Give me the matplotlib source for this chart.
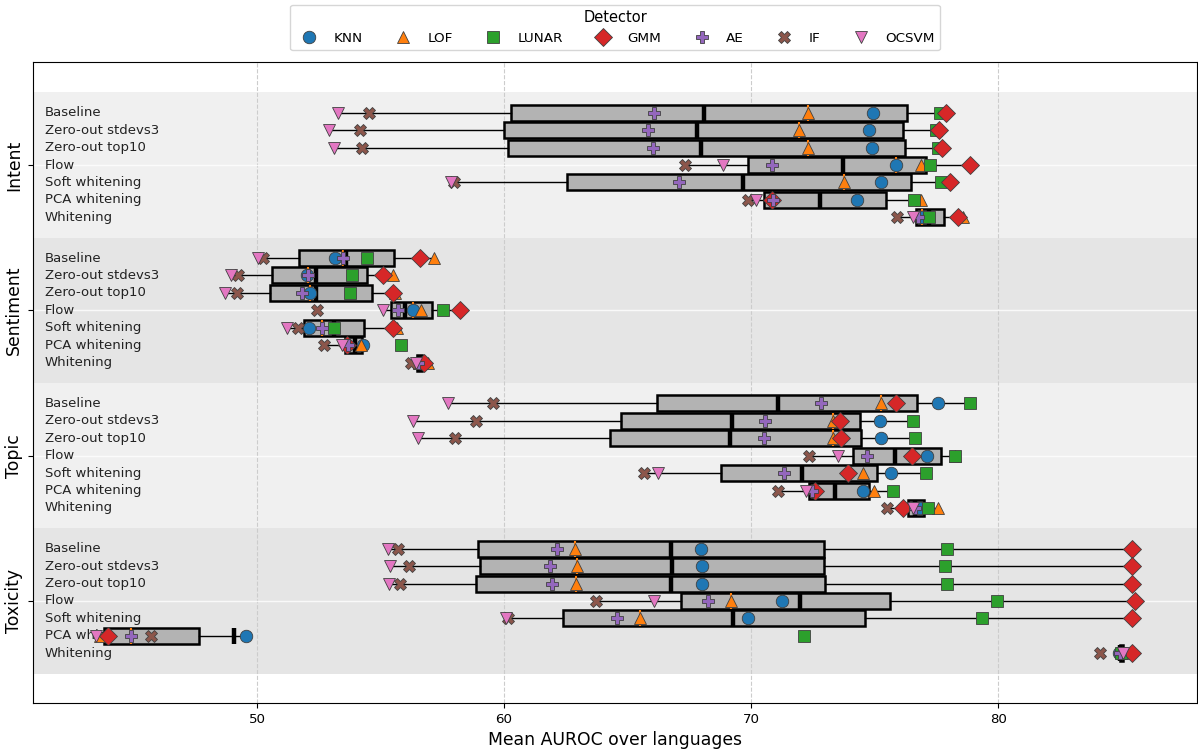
import numpy as np
import matplotlib.pyplot as plt

tasks = ["Intent", "Sentiment", "Topic", "Toxicity"]
methods = ["Baseline", "Zero-out stdevs3", "Zero-out top10", "Flow",
           "Soft whitening", "PCA whitening", "Whitening"]
detectors = ["KNN", "LOF", "LUNAR", "GMM", "AE", "IF", "OCSVM"]
markers = ["o", "^", "s", "D", "P", "X", "v"]
colors = ["C0", "C1", "C2", "C3", "C4", "C5", "C6"]

# rows = methods, columns = detectors (KNN, LOF, LUNAR, GMM, AE, IF, OCSVM)
intent = [
    [74.94, 72.31, 77.65, 77.89, 66.07, 54.53, 53.28],
    [74.78, 71.94, 77.50, 77.60, 65.83, 54.17, 52.91],
    [74.90, 72.31, 77.57, 77.73, 66.03, 54.25, 53.12],
    [75.87, 76.88, 77.25, 78.87, 70.85, 67.33, 68.87],
    [75.26, 73.77, 77.69, 78.06, 67.09, 57.97, 57.85],
    [74.29, 76.88, 76.60, 70.85, 70.90, 69.88, 70.20],
    [76.90, 78.58, 77.21, 78.38, 76.77, 75.91, 76.56],
]
sentiment = [
    [53.16, 57.17, 54.45, 56.60, 53.48, 50.24, 50.04],
    [52.02, 55.50, 53.84, 55.10, 52.05, 49.23, 48.95],
    [52.15, 55.60, 53.77, 55.50, 51.82, 49.19, 48.70],
    [56.32, 56.64, 57.53, 58.22, 55.71, 52.43, 55.10],
    [52.12, 55.65, 53.12, 55.50, 52.61, 51.65, 51.20],
    [54.29, 54.20, 55.83, 53.64, 53.70, 52.71, 53.44],
    [56.60, 56.90, 56.55, 56.75, 56.50, 56.23, 56.44],
]
topic = [
    [77.57, 75.26, 78.87, 75.87, 72.83, 59.55, 57.73],
    [75.22, 73.32, 76.56, 73.60, 70.57, 58.87, 56.32],
    [75.26, 73.32, 76.64, 73.64, 70.53, 58.02, 56.52],
    [77.13, 78.25, 78.26, 76.52, 74.70, 72.35, 73.52],
    [75.67, 74.53, 77.09, 73.93, 71.34, 65.67, 66.23],
    [74.53, 74.98, 75.75, 72.59, 72.47, 71.09, 72.23],
    [76.84, 77.57, 77.17, 76.15, 76.64, 75.50, 76.56],
]
toxicity = [
    [67.98, 62.87, 77.94, 85.43, 62.15, 55.71, 55.30],
    [68.02, 62.96, 77.85, 85.43, 61.87, 56.15, 55.40],
    [68.02, 62.91, 77.94, 85.43, 61.94, 55.79, 55.34],
    [71.25, 69.19, 79.96, 85.55, 68.26, 63.72, 66.05],
    [69.88, 65.50, 79.35, 85.43, 64.57, 60.16, 60.08],
    [49.55, 43.64, 72.15, 43.97, 44.90, 45.71, 43.48],
    [84.90, 85.10, 84.98, 85.43, 84.95, 84.13, 85.04],
]

scores = [intent, sentiment, topic, toxicity]
row_step = 0.12

ypos = []
labels = []
for g in range(len(tasks)):
    for k in range(len(methods)):
        ypos.append(g + (k - 3) * row_step)
        labels.append(methods[k])
data = [row for task in scores for row in task]
arr = np.array(data)

fig = plt.figure(figsize=(11.98, 7.54), dpi=100)
ax = fig.add_axes([33 / 1198, 51 / 754, 1164 / 1198, 641 / 754])

# alternating background bands per task
for g in range(len(tasks)):
    ax.axhspan(g - 0.5, g + 0.5, color="#f0f0f0" if g % 2 == 0 else "#e5e5e5",
               lw=0, zorder=0)

ax.boxplot(data, positions=ypos, orientation="horizontal", widths=0.11,
           patch_artist=True, showfliers=False, showcaps=False,
           showmeans=True, meanline=True, manage_ticks=False,
           boxprops=dict(facecolor="#b3b3b3", edgecolor="black", linewidth=1.8),
           whiskerprops=dict(color="black", linewidth=1.0),
           medianprops=dict(color="C1", linewidth=1.5),
           meanprops=dict(color="black", linewidth=3.2, linestyle="-"))

handles = []
for j, det in enumerate(detectors):
    h, = ax.plot(arr[:, j], ypos, linestyle="none", marker=markers[j],
                 color=colors[j], ms=9, mec="#404040", mew=0.6,
                 label=det, zorder=3 + j)
    handles.append(h)

for y, lab in zip(ypos, labels):
    ax.text(0.0103, y, lab, transform=ax.get_yaxis_transform(),
            ha="left", va="center", fontsize=9.5, color="#222222", zorder=1.5)

ax.set_xlim(40.93, 88.05)
ax.set_ylim(3.702, -0.709)
ax.set_xticks([50, 60, 70, 80])
ax.tick_params(axis="x", labelsize=9.6)
ax.set_yticks(range(len(tasks)))
ax.set_yticklabels(tasks, rotation=90, va="center", fontsize=12.4)
ax.set_axisbelow(True)
ax.grid(axis="x", linestyle="--", color="#cccccc", linewidth=0.8)
ax.grid(axis="y", linestyle="-", color="white", linewidth=1, alpha=0.8)
ax.set_xlabel("Mean AUROC over languages", fontsize=12.4)

fig.legend(handles, detectors, loc="upper center", bbox_to_anchor=(0.5134, 1.0),
           ncol=7, title="Detector", fontsize=9.7, title_fontsize=10.5,
           borderaxespad=0.35)

fig.savefig("out.png", dpi=100)
